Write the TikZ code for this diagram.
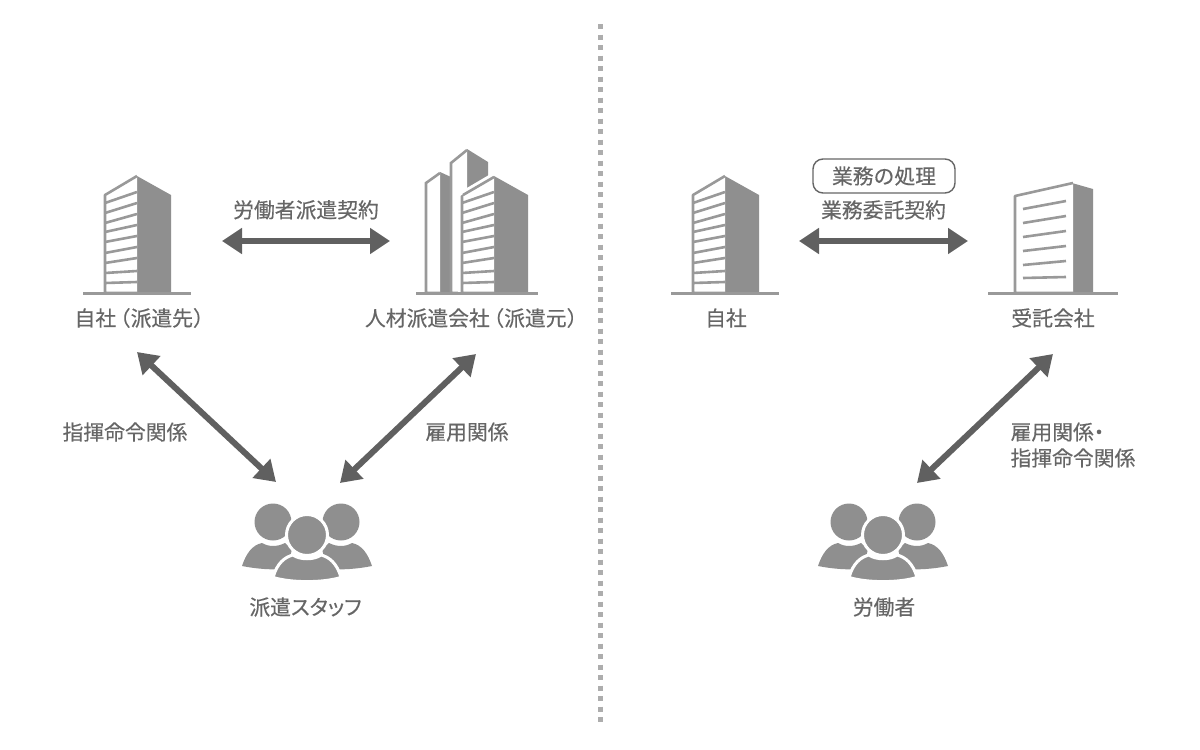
\documentclass[tikz,border=0pt]{standalone}
\usepackage{fontspec}
\usepackage{tikz}
\usetikzlibrary{arrows.meta, positioning}
\newfontfamily\jpfont[RawFeature=+halt, FakeBold=0.35]{Noto Sans CJK JP}
\newfontfamily\kanafont[RawFeature=+palt, FakeBold=0.35]{Noto Sans CJK JP}
\definecolor{textgray}{HTML}{666666}
\definecolor{arrowgray}{HTML}{606060}
\definecolor{iconline}{HTML}{999999}
\definecolor{icondark}{HTML}{8F8F8F}
\definecolor{dotgray}{HTML}{ADADAD}

\begin{document}
\begin{tikzpicture}[
    x=1pt, y=-1pt,
    label/.style={font=\jpfont\fontsize{20.8}{26}\selectfont, text=textgray, inner sep=0pt},
    relation/.style={{Triangle[length=20pt,width=25pt]}-{Triangle[length=20pt,width=25pt]}, line width=6pt, draw=arrowgray},
    ground/.style={draw=iconline, line width=3pt},
    stripe/.style={draw=iconline, line width=2.6pt},
    pics/ground/.style args={#1/#2}{code={\draw[ground] (#1,0) -- (#2,0);}},
    % building with striped front, origin at the foot of its front corner
    pics/striped/.style={code={
        \fill[icondark] (0,-117) -- (34,-98) -- (34,0) -- (0,0) -- cycle;
        \draw[stripe, fill=white, line join=round] (0,-117) -- (-32,-98) -- (-32,0) -- (0,0);
        \foreach \yl/\yr in {90/101, 80/90, 70/79, 61/68, 51/57, 40/46, 30/35, 20/22, 10/11}
            \draw[stripe] (-32,-\yl) -- (0,-\yr);
    }},
    % three people, origin at the centre of the middle head
    pics/people/.style={code={
        \fill[icondark] (-34,-13) circle (18.5);
        \fill[icondark] (34,-13) circle (18.5);
        \fill[icondark] (-65,31) .. controls (-61,19) and (-55,10) .. (-45,8)
            .. controls (-38,12) and (-30,12) .. (-22,8) -- (-15,14) -- (-20,34) .. controls (-35,35) and (-50,34) .. cycle;
        \fill[icondark] (65,31) .. controls (61,19) and (55,10) .. (45,8)
            .. controls (38,12) and (30,12) .. (22,8) -- (15,14) -- (20,34) .. controls (35,35) and (50,34) .. cycle;
        \draw[white, line width=3pt, fill=icondark] (0,0) circle (20.5);
        \draw[white, line width=3pt, fill=icondark] (-34,42.5) .. controls (-30,28) and (-22,22) .. (-14,20)
            .. controls (-7,25) and (7,25) .. (14,20)
            .. controls (22,22) and (30,28) .. (34,42.5)
            .. controls (15,48) and (-15,48) .. cycle;
    }},
]
\useasboundingbox (0,0) rectangle (1200,750);
\fill[white] (0,0) rectangle (1200,750);

\coordinate (top) at (600.5,24);
\coordinate (bottom) at (600.5,722);
\draw[dotgray, line width=4.6pt, dash pattern=on 5pt off 5.5pt] (top) -- (bottom);

% left side
\pic at (137,293) {striped};
\pic at (137,293) {ground={-54/54}};

\fill[icondark] (440,172) -- (451,177) -- (451,293) -- (440,293) -- cycle;
\draw[stripe, fill=white] (440,293) -- (426,293) -- (426,183) -- (440,173);
\fill[icondark] (467,149) -- (488,162) -- (488,200) -- (467,200) -- cycle;
\fill[icondark] (467,200) rectangle (470,293);
\draw[stripe, fill=white] (467,293) -- (451,293) -- (451,163) -- (467,150);
\fill[white] (458,205) rectangle (463,293);
\pic at (494,293) {striped};
\fill[white] (460,192) -- (494,172) -- (494,176) -- (460,196) -- cycle;
\draw[stripe] (463,195) -- (494,177);
\pic at (477,293) {ground={-61/61}};

\node[label] (selfA) at (139,318) {自社\hspace{4pt}（派遣先）};
\node[label] (agency) at (471,318) {人材派遣会社\hspace{4pt}（派遣元）};
\pic at (307,535) {people};
\node[label, font=\kanafont\fontsize{20.8}{26}\selectfont] (staff) at (305.5,607) {派遣スタッフ};

\coordinate (selfAright) at (222,241);
\coordinate (agencyleft) at (390,241);
\draw[relation] (selfAright) -- node[label, above=18.5pt] (dispatchdeal) {労働者派遣契約} (agencyleft);

\coordinate (selfAfoot) at (137,352);
\coordinate (staffleft) at (276,482);
\draw[relation] (selfAfoot) -- (staffleft);
\node[label] (command) at (125,432) {指揮命令関係};

\coordinate (agencyfoot) at (476,354);
\coordinate (staffright) at (340,483);
\draw[relation] (agencyfoot) -- (staffright);
\node[label] (hire) at (467,432) {雇用関係};

% right side
\pic at (725,293) {striped};
\pic at (725,293) {ground={-54/54}};

\fill[icondark] (1072,183) -- (1093,189) -- (1093,293) -- (1072,293) -- cycle;
\draw[stripe, fill=white, line join=round] (1073,183) -- (1015,196) -- (1015,293) -- (1073,293);
\foreach \yl/\yr in {209/201, 223/216, 237/231, 251/246, 265/261, 278/277}
    \draw[stripe] (1023,\yl) -- (1066,\yr);
\pic at (1053,293) {ground={-65/65}};

\node[label] (selfB) at (726,318) {自社};
\node[label] (contractor) at (1053,318) {受託会社};
\pic at (883,535) {people};
\node[label] (worker) at (884,607) {労働者};

\coordinate (selfBright) at (799,241);
\coordinate (contractorleft) at (968,241);
\draw[relation] (selfBright) -- node[label, above=18.5pt] (outsourcedeal) {業務委託契約} (contractorleft);
\node[label, draw=textgray, line width=1.4pt, rounded corners=10pt, minimum width=142pt, minimum height=34pt] (task) at (884,176) {業務の処理};

\coordinate (contractorfoot) at (1053,354);
\coordinate (workerright) at (917,483);
\draw[relation] (contractorfoot) -- (workerright);
\node[label, align=left] (hirecommand) at (1073,445) {雇用関係・\\指揮命令関係};

\end{tikzpicture}
\end{document}
